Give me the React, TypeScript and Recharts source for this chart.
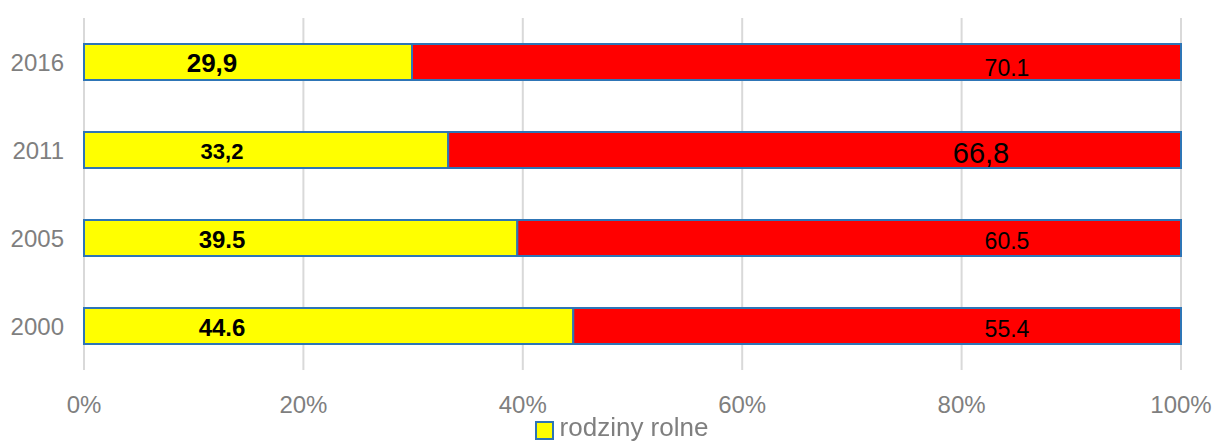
import { Bar, BarChart, CartesianGrid, LabelList, Legend, XAxis, YAxis } from "recharts"

const years = ["2016", "2011", "2005", "2000"]
const farmShare = [29.9, 33.2, 39.5, 44.6]
const otherShare = [70.1, 66.8, 60.5, 55.4]
const farmLabels = ["29,9", "33,2", "39.5", "44.6"]
const otherLabels = ["70.1", "66,8", "60.5", "55.4"]
const xTicks = [0, 20, 40, 60, 80, 100]

const data = years.map((year, i) => ({
  year,
  farm: farmShare[i],
  other: otherShare[i],
  farmLabel: farmLabels[i],
  otherLabel: otherLabels[i],
}))

const font = "'Liberation Sans', Arial, sans-serif"
const border = "#2e75b6"

const farmLabel = (props: any) => {
  const { x, y, height, value, index } = props
  return (
    <text
      x={x + (index === 0 ? 128 : 138)}
      y={y + height / 2 + 1}
      textAnchor="middle"
      dominantBaseline="central"
      fontFamily={font}
      fontWeight="bold"
      fontSize={index === 0 ? 26 : index === 1 ? 22 : 24}
      fill="#000"
    >
      {value}
    </text>
  )
}

const otherLabel = (props: any) => {
  const { x, y, width, height, value, index } = props
  const big = index === 1
  return (
    <text
      x={x + width - (big ? 200 : 174)}
      y={y + height / 2 + (index === 0 ? 6 : 3)}
      textAnchor="middle"
      dominantBaseline="central"
      fontFamily={font}
      fontSize={big ? 29 : 23}
      fill="#000"
    >
      {value}
    </text>
  )
}

const legendContent = () => (
  <div
    style={{
      display: "flex",
      justifyContent: "center",
      alignItems: "center",
      fontFamily: font,
      fontSize: 26,
      lineHeight: "30px",
      color: "#7f7f7f",
      paddingLeft: 62,
      paddingTop: 2,
    }}
  >
    <span
      style={{
        display: "inline-block",
        width: 15,
        height: 15,
        background: "#ffff00",
        border: `2px solid ${border}`,
        marginRight: 6,
        marginTop: 6,
      }}
    />
    rodziny rolne
  </div>
)

export default function App() {
  return (
    <div style={{ position: "fixed", left: 0, top: 0, background: "#fff" }}>
      <BarChart
        width={1212}
        height={441}
        data={data}
        layout="vertical"
        margin={{ top: 18, right: 31, left: 0, bottom: 0 }}
        barSize={36}
      >
        <CartesianGrid horizontal={false} stroke="#d9d9d9" strokeWidth={2} />
        <XAxis
          type="number"
          domain={[0, 100]}
          ticks={xTicks}
          tickFormatter={(v) => `${v}%`}
          axisLine={false}
          tickLine={false}
          tickMargin={20}
          height={40}
          tick={{ fill: "#7f7f7f", fontSize: 24, fontFamily: font }}
        />
        <YAxis
          type="category"
          dataKey="year"
          width={84}
          axisLine={false}
          tickLine={false}
          tickMargin={14}
          tick={{ fill: "#7f7f7f", fontSize: 24, fontFamily: font }}
        />
        <Legend verticalAlign="bottom" height={31} content={legendContent} />
        <Bar dataKey="farm" stackId="a" fill="#ffff00" stroke={border} strokeWidth={2} isAnimationActive={false}>
          <LabelList dataKey="farmLabel" content={farmLabel} />
        </Bar>
        <Bar dataKey="other" stackId="a" fill="#ff0000" stroke={border} strokeWidth={2} isAnimationActive={false}>
          <LabelList dataKey="otherLabel" content={otherLabel} />
        </Bar>
      </BarChart>
    </div>
  )
}
